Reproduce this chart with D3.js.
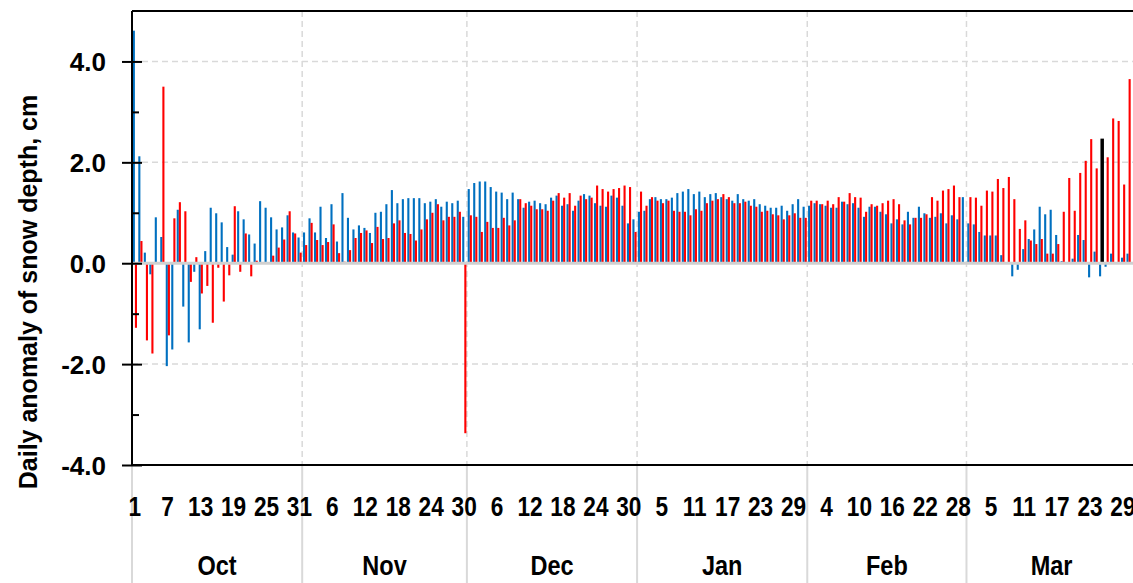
<!DOCTYPE html>
<html>
<head>
<meta charset="utf-8">
<script src="https://cdn.jsdelivr.net/npm/d3@7"></script>
<style>
  body { margin: 0; background: #fff; }
  svg { display: block; }
  .lbl { font-family: "Liberation Sans", Arial, sans-serif; font-weight: bold; fill: #000; }
</style>
</head>
<body>
<div id="chart"></div>
<script>
// Season calendar (leap year: Feb has 29 days)
const months = ["Oct", "Nov", "Dec", "Jan", "Feb", "Mar"];
const monthDays = [31, 30, 31, 31, 29, 31];

// Daily anomaly of snow depth, cm - one value per day from Oct 1
const blueAnomaly = [
  4.61, 2.12, 0.21, -0.22, 0.91, 0.52, -2.04, -1.71, 1.06, -0.86,
  -1.57, -0.17, -1.31, 0.24, 1.10, 0.99, 0.81, 0.32, 0.17, 1.03,
  0.87, 0.57, 0.39, 1.23, 1.10, 0.91, 0.67, 0.71, 0.95, 0.61,
  0.51, 0.61, 0.89, 0.61, 1.12, 0.50, 1.17, 0.43, 1.39, 0.90,
  0.67, 0.75, 0.70, 0.60, 1.00, 1.02, 1.17, 1.45, 1.19, 1.27,
  1.29, 1.29, 1.29, 1.19, 1.22, 1.27, 1.12, 1.22, 1.19, 1.24,
  0.92, 1.47, 1.59, 1.62, 1.62, 1.51, 1.42, 1.40, 1.27, 1.40,
  1.27, 1.10, 1.22, 1.24, 1.19, 1.17, 1.30, 1.34, 1.14, 1.17,
  1.04, 1.24, 1.37, 1.34, 1.19, 1.14, 1.12, 1.34, 1.30, 1.14,
  0.79, 0.87, 1.02, 1.04, 1.27, 1.31, 1.27, 1.27, 1.30, 1.39,
  1.42, 1.47, 1.37, 1.42, 1.31, 1.37, 1.39, 1.31, 1.27, 1.24,
  1.37, 1.27, 1.24, 1.27, 1.17, 1.14, 1.10, 1.10, 1.14, 1.04,
  1.17, 1.27, 1.12, 1.14, 1.19, 1.17, 1.14, 1.10, 1.10, 1.22,
  1.17, 1.19, 1.10, 0.92, 1.12, 1.12, 1.02, 0.97, 0.79, 0.87,
  0.77, 1.02, 0.90, 1.12, 0.99, 0.90, 0.92, 0.99, 0.79, 0.95,
  0.87, 1.31, 0.79, 0.77, 0.62, 0.55, 0.55, 0.55, 0.16, 0.00,
  -0.26, -0.13, 0.28, 0.48, 0.67, 1.12, 0.97, 1.06, 0.56, 0.04,
  0.00, 0.09, 0.56, 0.46, -0.28, 0.23, -0.26, -0.07, 0.19, 0.00,
  0.11, 0.19
];
const redAnomaly = [
  -1.28, 0.44, -1.53, -1.79, 0.00, 3.50, -1.43, 0.89, 1.21, 1.03,
  -0.37, 0.12, -0.60, -0.45, -1.18, -0.09, -0.76, -0.24, 1.13, -0.17,
  0.59, -0.26, 0.05, 0.00, 0.00, 0.15, 0.31, 0.47, 1.03, 0.59,
  0.21, 0.36, 0.80, 0.46, 0.36, 0.42, 0.77, 0.20, 0.03, 0.26,
  0.50, 0.60, 0.65, 0.40, 0.72, 0.48, 0.50, 0.79, 0.85, 0.60,
  0.58, 0.45, 0.67, 0.87, 1.00, 1.17, 0.85, 0.92, 0.92, 1.02,
  -3.37, 0.95, 0.92, 0.62, 0.82, 0.70, 0.70, 0.90, 0.75, 0.85,
  1.27, 1.19, 1.14, 1.07, 1.07, 1.04, 1.24, 1.39, 1.30, 1.39,
  1.14, 1.34, 1.27, 1.30, 1.54, 1.47, 1.42, 1.47, 1.49, 1.54,
  1.51, 0.62, 1.42, 1.14, 1.31, 1.24, 1.19, 1.24, 1.04, 1.02,
  1.02, 0.95, 1.07, 1.04, 1.19, 1.24, 1.27, 1.37, 1.31, 1.19,
  1.19, 1.22, 1.14, 1.12, 1.02, 1.04, 0.97, 0.95, 0.87, 0.95,
  0.99, 0.90, 0.90, 1.24, 1.24, 1.17, 1.24, 1.17, 1.31, 1.22,
  1.39, 1.31, 1.30, 1.02, 1.17, 1.14, 1.19, 1.24, 1.27, 1.17,
  0.85, 0.77, 0.90, 0.90, 0.97, 1.31, 1.24, 1.44, 1.47, 1.54,
  1.31, null, 1.31, 1.30, 1.14, 1.44, 1.42, 1.67, 1.49, 1.71,
  1.27, 0.68, 0.85, 0.45, 0.38, 0.48, 0.19, 0.19, 0.38, 1.02,
  1.69, 1.04, 1.79, 2.03, 2.46, 1.88, 2.47, 2.10, 2.87, 2.82,
  1.56, 3.65
];
const highlightDay = 176; // latest day, drawn in black
const yTicks = [-4, -2, 0, 2, 4];
const yMinorTicks = [-3, -1, 1, 3];
const labelEvery = 6;

const width = 1133;
const height = 583;
const margin = {left: 132, top: 11, bottom: 118};
const dayStep = 5.49;

const days = [];
months.forEach((m, mi) => {
  for (let d = 1; d <= monthDays[mi]; d++) days.push({month: m, day: d});
});

const svg = d3.select("#chart")
  .append("svg")
  .attr("width", width)
  .attr("height", height);

const plotBottom = height - margin.bottom;

const x = d3.scaleBand()
  .domain(d3.range(days.length))
  .range([margin.left, margin.left + days.length * dayStep]);
const xs = d3.scaleBand()
  .domain(["blue", "red"])
  .range([0.8, 5.0]);
const y = d3.scaleLinear()
  .domain([-4, 5])
  .range([plotBottom, margin.top]);

// month boundaries (index of first day of each month)
const monthStarts = [];
let acc = 0;
monthDays.forEach(n => { monthStarts.push(acc); acc += n; });

// Horizontal dashed gridlines
svg.append("g")
  .selectAll("line")
  .data(yTicks.filter(t => t !== 0 && t !== -4))
  .join("line")
  .attr("x1", margin.left)
  .attr("x2", width)
  .attr("y1", d => y(d))
  .attr("y2", d => y(d))
  .attr("stroke", "#d9d9d9")
  .attr("stroke-width", 1.5)
  .attr("stroke-dasharray", "6,4");

// Vertical dashed gridlines at month boundaries
svg.append("g")
  .selectAll("line")
  .data(monthStarts.slice(1))
  .join("line")
  .attr("x1", d => x(d))
  .attr("x2", d => x(d))
  .attr("y1", margin.top)
  .attr("y2", plotBottom)
  .attr("stroke", "#d9d9d9")
  .attr("stroke-width", 1.5)
  .attr("stroke-dasharray", "6,4");

function drawBars(values, key, color) {
  const data = values.map((v, i) => ({i, v})).filter(d => d.v !== null && d.v !== 0);
  const isHi = d => key === "red" && d.i === highlightDay;
  svg.append("g")
    .selectAll("rect")
    .data(data)
    .join("rect")
    .attr("x", d => x(d.i) + xs(key) - (isHi(d) ? 0.7 : 0))
    .attr("y", d => y(Math.max(d.v, 0)))
    .attr("width", d => xs.bandwidth() + (isHi(d) ? 1.4 : 0))
    .attr("height", d => Math.abs(y(d.v) - y(0)))
    .attr("fill", d => isHi(d) ? "#000" : color);
}
drawBars(blueAnomaly, "blue", "#0070c0");
drawBars(redAnomaly, "red", "#ff0000");

// Zero line
svg.append("line")
  .attr("x1", margin.left)
  .attr("x2", width)
  .attr("y1", y(0))
  .attr("y2", y(0))
  .attr("stroke", "#d0d0d0")
  .attr("stroke-width", 3);

// Month separators below the axis
svg.append("g")
  .selectAll("line")
  .data(monthStarts)
  .join("line")
  .attr("x1", d => x(d))
  .attr("x2", d => x(d))
  .attr("y1", plotBottom)
  .attr("y2", height)
  .attr("stroke", "#d9d9d9")
  .attr("stroke-width", 2);

// Frame: top, bottom
svg.append("line")
  .attr("x1", margin.left).attr("x2", width)
  .attr("y1", margin.top).attr("y2", margin.top)
  .attr("stroke", "#000").attr("stroke-width", 2);
svg.append("line")
  .attr("x1", margin.left).attr("x2", width)
  .attr("y1", plotBottom).attr("y2", plotBottom)
  .attr("stroke", "#000").attr("stroke-width", 2);

// Y axis
const yAxis = svg.append("g")
  .attr("transform", `translate(${margin.left},0)`)
  .call(d3.axisLeft(y).tickValues(yTicks).tickSize(10).tickPadding(16)
    .tickFormat(d => d.toFixed(1)));
yAxis.select(".domain")
  .attr("stroke", "#000")
  .attr("stroke-width", 2)
  .attr("d", `M0,${margin.top}V${plotBottom}`);
yAxis.selectAll(".tick line")
  .attr("x1", -10).attr("x2", 10)
  .attr("stroke-width", 2);
yAxis.selectAll(".tick text")
  .attr("class", "lbl")
  .attr("font-size", 26)
  .attr("dy", "0.36em");

svg.append("g")
  .attr("transform", `translate(${margin.left},0)`)
  .call(d3.axisRight(y).tickValues(yMinorTicks).tickSize(7).tickFormat(""))
  .call(g => g.select(".domain").remove())
  .selectAll(".tick line")
  .attr("stroke-width", 2);

// X axis day labels (narrowed to match the condensed original lettering)
const xAxis = svg.append("g")
  .attr("transform", `translate(0,${plotBottom})`)
  .call(d3.axisBottom(x)
    .tickValues(d3.range(0, days.length, labelEvery))
    .tickSize(0)
    .tickPadding(0)
    .tickFormat(i => days[i].day));
xAxis.select(".domain").remove();
xAxis.selectAll(".tick text")
  .attr("class", "lbl")
  .attr("font-size", 27)
  .attr("dy", null)
  .attr("y", 51)
  .attr("transform", "scale(0.84,1)");

// Month labels
svg.append("g")
  .selectAll("text")
  .data(months)
  .join("text")
  .attr("class", "lbl")
  .attr("font-size", 27)
  .attr("text-anchor", "middle")
  .attr("transform", (m, i) =>
    `translate(${x(monthStarts[i]) + monthDays[i] * x.step() / 2},${plotBottom + 110}) scale(0.87,1)`)
  .text(m => m);

// Y axis title
svg.append("text")
  .attr("class", "lbl")
  .attr("font-size", 25)
  .attr("text-anchor", "middle")
  .attr("transform", `translate(37, ${(margin.top + plotBottom) / 2 + 54}) rotate(-90)`)
  .text("Daily anomaly of snow depth, cm");
</script>
</body>
</html>
